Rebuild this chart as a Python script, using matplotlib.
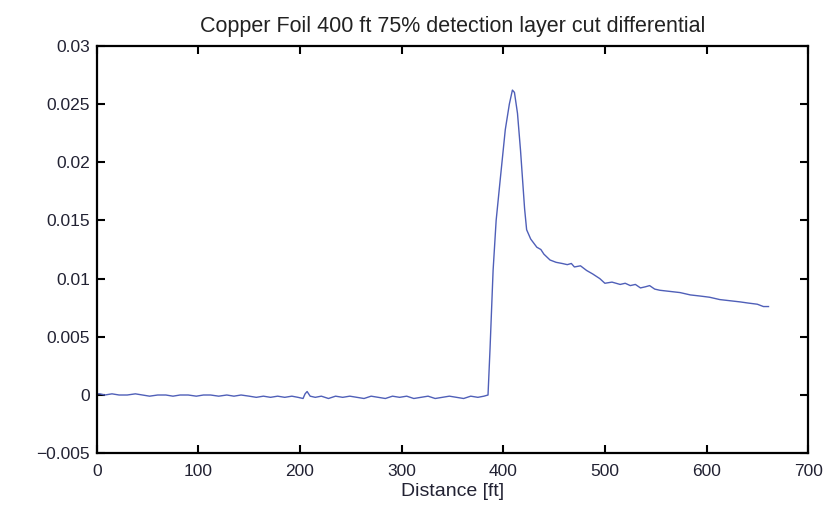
import numpy as np
import matplotlib.pyplot as plt

plt.rcParams['font.family'] = ['Liberation Sans', 'DejaVu Sans']

# distance along the cable [ft]
distance = [0, 3, 8, 15, 22, 30, 38, 45, 52, 60, 68, 75, 82, 90, 98, 105, 112, 120,
            128, 135, 142, 150, 157, 164, 171, 178, 185, 192, 198, 203, 205, 207,
            210, 215, 221, 228, 235, 242, 249, 256, 263, 270, 277, 284, 291, 298,
            305, 312, 319, 326, 333, 340, 347, 354, 361, 368, 375, 381, 385, 387,
            390, 393, 397, 402, 406, 409, 411, 414, 417, 419, 421, 423, 427, 433,
            437, 440, 446, 452, 458, 463, 467, 470, 476, 482, 488, 495, 500, 507,
            515, 520, 525, 530, 535, 540, 544, 549, 554, 564, 574, 584, 594, 603,
            613, 623, 633, 641, 650, 656, 661]
# differential signal
differential = [0.0001, 0.0001, 0.0, 0.0001, 0.0, 0.0, 0.0001, 0.0, -0.0001, 0.0,
                0.0, -0.0001, 0.0, 0.0, -0.0001, 0.0, 0.0, -0.0001, 0.0, -0.0001,
                0.0, -0.0001, -0.0002, -0.0001, -0.0002, -0.0001, -0.0002, -0.0001,
                -0.0002, -0.0003, 0.0001, 0.0003, -0.0001, -0.0002, -0.0001, -0.0003,
                -0.0001, -0.0002, -0.0001, -0.0002, -0.0003, -0.0001, -0.0002, -0.0003,
                -0.0001, -0.0002, -0.0001, -0.0003, -0.0002, -0.0001, -0.0003, -0.0002,
                -0.0001, -0.0002, -0.0003, -0.0001, -0.0002, -0.0001, 0.0, 0.004,
                0.0107, 0.0150, 0.0185, 0.0228, 0.0250, 0.0262, 0.0260, 0.0242, 0.0210,
                0.0185, 0.0160, 0.0142, 0.0134, 0.0127, 0.0125, 0.0121, 0.0116, 0.0114,
                0.0113, 0.0112, 0.0113, 0.0110, 0.0111, 0.0107, 0.0104, 0.0100, 0.0096,
                0.0097, 0.0095, 0.0096, 0.0094, 0.0095, 0.0092, 0.0093, 0.0094, 0.0091,
                0.0090, 0.0089, 0.0088, 0.0086, 0.0085, 0.0084, 0.0082, 0.0081, 0.0080,
                0.0079, 0.0078, 0.0076, 0.0076]

xticks = [0, 100, 200, 300, 400, 500, 600, 700]
yticks = [-0.005, 0, 0.005, 0.01, 0.015, 0.02, 0.025, 0.03]
ytick_labels = ['\u22120.005', '0', '0.005', '0.01', '0.015', '0.02', '0.025', '0.03']

fig = plt.figure(figsize=(8.34, 5.15), dpi=100)
ax = fig.add_axes([0.116, 0.120, 0.853, 0.791])
ax.plot(distance, differential, color='#4f5fb8', lw=1.0)

ax.set_xlim(0, 700)
ax.set_ylim(-0.005, 0.03)
ax.set_xticks(xticks)
ax.set_xticklabels([str(v) for v in xticks])
ax.set_yticks(yticks)
ax.set_yticklabels(ytick_labels)
ax.tick_params(direction='in', top=True, right=True, length=6, width=1.5,
               labelsize=12.5, labelcolor='#222233')
ax.tick_params(axis='x', pad=8)
ax.tick_params(axis='y', pad=5)
for s in ax.spines.values():
    s.set_linewidth(1.6)

ax.set_title('Copper Foil 400 ft 75% detection layer cut differential',
             fontsize=15.5, color='#222222', pad=10)
ax.set_xlabel('Distance [ft]', fontsize=14, color='#222233', labelpad=3)

fig.savefig('out.png', dpi=100)
